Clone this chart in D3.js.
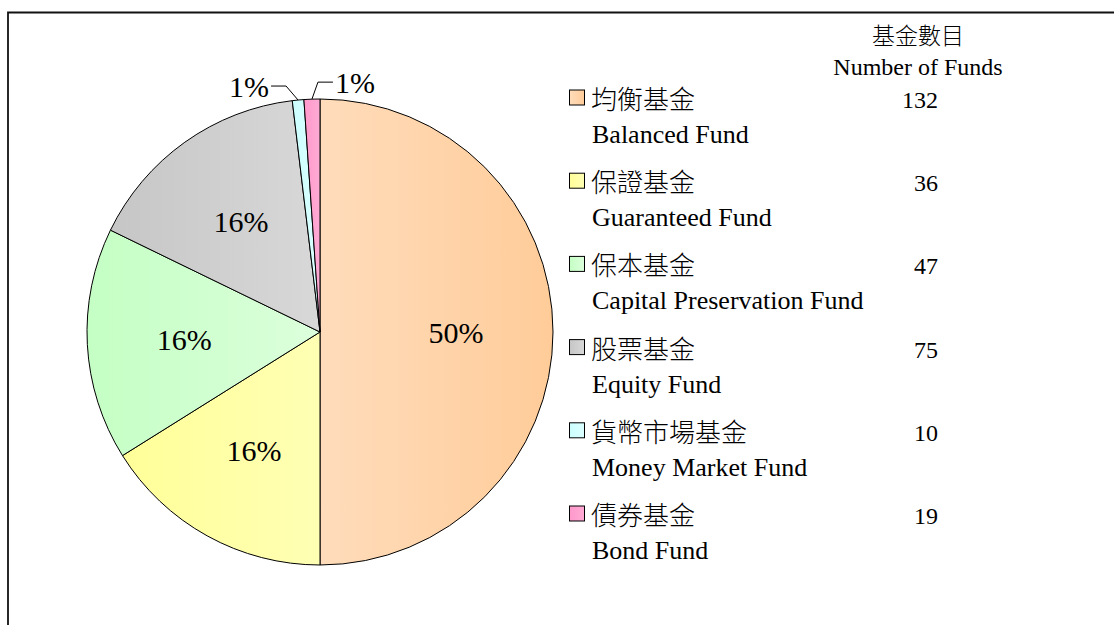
<!DOCTYPE html>
<html>
<head>
<meta charset="utf-8">
<script src="https://cdn.jsdelivr.net/npm/d3@7/dist/d3.min.js"></script>
<style>
  body { margin: 0; background: #fff; }
</style>
</head>
<body>
<svg id="chart" width="1114" height="625"></svg>
<script>
// fund types (Chinese / English), share of pie (%), number of funds
const namesZh = ['均衡基金', '保證基金', '保本基金', '股票基金', '貨幣市場基金', '債券基金']
const namesEn = ['Balanced Fund', 'Guaranteed Fund', 'Capital Preservation Fund', 'Equity Fund', 'Money Market Fund', 'Bond Fund']
const shares = [50.0, 16.1, 16.1, 15.9, 0.8, 1.1]
const fundCounts = [132, 36, 47, 75, 10, 19]
const headerZh = '基金數目'
const headerEn = 'Number of Funds'

// base colour and the lighter end of each slice's gradient
const baseColors = ['#ffcc99', '#ffff99', '#c4ffc4', '#c6c6c6', '#ccffff', '#ff99cc']
const lightColors = ['#ffdcbb', '#ffffb4', '#dcffdc', '#d8d8d8', '#dcffff', '#ffaad4']

const width = 1114
const height = 625
const cx = 320
const cy = 332
const radius = 233
const serif = "'Liberation Serif', 'Times New Roman', Tinos, 'DejaVu Serif', 'Noto Sans CJK TC', serif"

const svg = d3.select('#chart')
    .attr('font-family', serif)

const data = namesZh.map((zh, i) => ({
    zh: zh,
    en: namesEn[i],
    share: shares[i],
    count: fundCounts[i],
    index: i,
}))

// gradients
const defs = svg.append('defs')
data.forEach(d => {
    const grad = defs.append('linearGradient')
        .attr('id', 'grad' + d.index)
        .attr('x1', 0).attr('x2', 1).attr('y1', 0).attr('y2', 0)
    // balanced slice is lighter on the left, the others lighter on the right
    const left = d.index === 0 ? lightColors[d.index] : baseColors[d.index]
    const right = d.index === 0 ? baseColors[d.index] : lightColors[d.index]
    grad.append('stop').attr('offset', '0%').attr('stop-color', left)
    grad.append('stop').attr('offset', '100%').attr('stop-color', right)
})

// outer frame (top and left edges visible)
svg.append('path')
    .attr('d', `M8,${height} L8,12.5 L${width},12.5`)
    .attr('fill', 'none')
    .attr('stroke', '#111')
    .attr('stroke-width', 1.8)

// pie
const pie = d3.pie()
    .sort(null)
    .value(d => d.share)

const arcs = pie(data)

const arc = d3.arc().innerRadius(0).outerRadius(radius)
const labelArc = d3.arc().innerRadius(136).outerRadius(136)

const g = svg.append('g')
    .attr('transform', `translate(${cx},${cy})`)

g.selectAll('path.slice')
    .data(arcs)
    .join('path')
    .attr('class', 'slice')
    .attr('d', arc)
    .attr('fill', d => `url(#grad${d.data.index})`)
    .attr('stroke', '#000')
    .attr('stroke-width', 1)
    .attr('stroke-linejoin', 'round')

const fmt = d => Math.round(d) + '%'

// labels inside the big slices
const bigArcs = arcs.filter(d => d.data.share >= 5)
g.selectAll('text.inner')
    .data(bigArcs)
    .join('text')
    .attr('class', 'inner')
    .attr('x', d => labelArc.centroid(d)[0])
    .attr('y', d => labelArc.centroid(d)[1])
    .attr('dy', '0.35em')
    .attr('text-anchor', 'middle')
    .attr('font-size', 30)
    .text(d => fmt(d.data.share))

// small slices: labels outside with leader lines
const smallArcs = arcs.filter(d => d.data.share < 5)
smallArcs.forEach((d, k) => {
    const mid = (d.startAngle + d.endAngle) / 2
    const ax = Math.sin(mid) * radius
    const ay = -Math.cos(mid) * radius
    const side = k === 0 ? -1 : 1
    const ex = ax + side * (k === 0 ? 12 : 6)
    const ey = ay - (k === 0 ? 14 : 17)
    const lx = ex + side * 15
    g.append('polyline')
        .attr('points', [[ax, ay], [ex, ey], [lx, ey]].map(p => p.join(',')).join(' '))
        .attr('fill', 'none')
        .attr('stroke', '#000')
        .attr('stroke-width', 1)
    g.append('text')
        .attr('x', lx + side * 2)
        .attr('y', ey)
        .attr('dy', '0.35em')
        .attr('text-anchor', side < 0 ? 'end' : 'start')
        .attr('font-size', 30)
        .text(fmt(d.data.share))
})

// legend
const rowY = d3.scalePoint()
    .domain(data.map(d => d.zh))
    .range([101, 517])

const legend = svg.append('g')

legend.append('text')
    .attr('x', 918)
    .attr('y', 44)
    .attr('text-anchor', 'middle')
    .attr('font-size', 23)
    .attr('font-weight', 300)
    .text(headerZh)

legend.append('text')
    .attr('x', 918)
    .attr('y', 75)
    .attr('text-anchor', 'middle')
    .attr('font-size', 24)
    .text(headerEn)

const rows = legend.selectAll('g.row')
    .data(data)
    .join('g')
    .attr('class', 'row')
    .attr('transform', d => `translate(0,${rowY(d.zh)})`)

rows.append('rect')
    .attr('x', 569.5)
    .attr('y', -11)
    .attr('width', 15)
    .attr('height', 15)
    .attr('fill', d => `url(#grad${d.index})`)
    .attr('stroke', '#000')
    .attr('stroke-width', 1)

rows.append('text')
    .attr('x', 591)
    .attr('y', 8)
    .attr('font-size', 26)
    .attr('font-weight', 300)
    .text(d => d.zh)

rows.append('text')
    .attr('x', 592)
    .attr('y', 42)
    .attr('font-size', 26)
    .text(d => d.en)

rows.append('text')
    .attr('x', 938)
    .attr('y', 7)
    .attr('text-anchor', 'end')
    .attr('font-size', 24)
    .text(d => d.count)
</script>
</body>
</html>
